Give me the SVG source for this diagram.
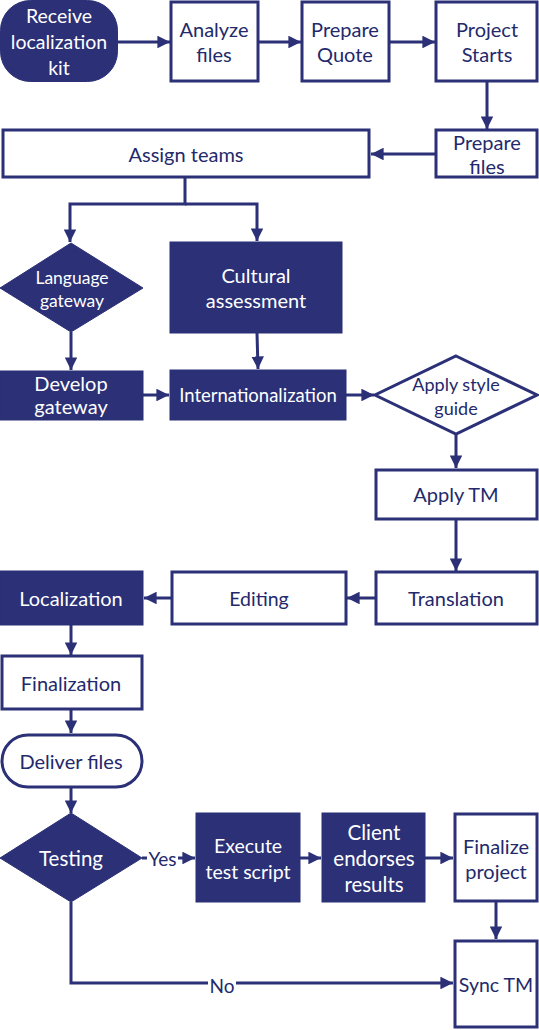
<svg xmlns="http://www.w3.org/2000/svg" width="539" height="1030" viewBox="0 0 539 1030">
<style>
.w{fill:#fff;stroke:#2B3077;stroke-width:3}
.d{fill:#2B3077;stroke:#2B3077;stroke-width:1}
.c{fill:none;stroke:#2B3077;stroke-width:3}
text{font-family:Lato,"Open Sans",sans-serif;text-anchor:middle;dominant-baseline:central}
.tw{fill:#fff}
.tb{fill:#23296B}
.lb{fill:#23296B;font-size:19px}
</style>
<defs>
<marker id="a" viewBox="0 0 10 10" refX="10" refY="5" markerWidth="4.2" markerHeight="4.2" orient="auto" markerUnits="strokeWidth"><path d="M0,0L10,5L0,10z" fill="#2B3077"/></marker>
</defs>
<rect width="539" height="1030" fill="#fff"/>
<g id="connectors">
<path class="c" d="M118,42H170" marker-end="url(#a)"/>
<path class="c" d="M258,42H301" marker-end="url(#a)"/>
<path class="c" d="M389,42H435" marker-end="url(#a)"/>
<path class="c" d="M487,81V129" marker-end="url(#a)"/>
<path class="c" d="M436,154H371" marker-end="url(#a)"/>
<path class="c" d="M185,177V204H70V242" marker-end="url(#a)"/>
<path class="c" d="M185,204H257V241" marker-end="url(#a)"/>
<path class="c" d="M71,332V370" marker-end="url(#a)"/>
<path class="c" d="M257,333L258,369" marker-end="url(#a)"/>
<path class="c" d="M143,395H169" marker-end="url(#a)"/>
<path class="c" d="M346,395H374" marker-end="url(#a)"/>
<path class="c" d="M456,434V468" marker-end="url(#a)"/>
<path class="c" d="M456,519V571" marker-end="url(#a)"/>
<path class="c" d="M375,598H347" marker-end="url(#a)"/>
<path class="c" d="M171,598H144" marker-end="url(#a)"/>
<path class="c" d="M71,625V655" marker-end="url(#a)"/>
<path class="c" d="M71,709V733" marker-end="url(#a)"/>
<path class="c" d="M71,787V813" marker-end="url(#a)"/>
<path class="c" d="M142,858H147M178,858H195" marker-end="url(#a)"/>
<text class="lb" x="162.5" y="858">Yes</text>
<path class="c" d="M300,858H321" marker-end="url(#a)"/>
<path class="c" d="M425,858H453" marker-end="url(#a)"/>
<path class="c" d="M496,901V939" marker-end="url(#a)"/>
<path class="c" d="M71,902V983H208M236,983H453" marker-end="url(#a)"/>
<text class="lb" x="222" y="985">No</text>
</g>
<g id="receive"><rect class="d" x="0.5" y="0.5" width="117" height="81" rx="30"/><text class="tw" font-size="19.5" x="59" y="15">Receive</text><text class="tw" font-size="19.5" x="59" y="41">localization</text><text class="tw" font-size="19.5" x="59" y="67">kit</text></g>
<g id="analyze"><rect class="w" x="171" y="2" width="87" height="79"/><text class="tb" font-size="20" x="214" y="29">Analyze</text><text class="tb" font-size="20" x="214" y="54">files</text></g>
<g id="quote"><rect class="w" x="302" y="2" width="87" height="79"/><text class="tb" font-size="20" x="345" y="29">Prepare</text><text class="tb" font-size="20" x="345" y="54">Quote</text></g>
<g id="starts"><rect class="w" x="436" y="2" width="101" height="79"/><text class="tb" font-size="20" x="487" y="29">Project</text><text class="tb" font-size="20" x="487" y="54">Starts</text></g>
<g id="preparefiles"><rect class="w" x="436" y="130" width="101" height="47"/><text class="tb" font-size="20" x="487" y="142">Prepare</text><text class="tb" font-size="20" x="487" y="166">files</text></g>
<g id="assign"><rect class="w" x="3" y="130" width="366" height="47"/><text class="tb" font-size="20" x="186" y="154">Assign teams</text></g>
<g id="langgw"><path class="d" d="M71,243L143,288L71,332L0,288z"/><text class="tw" font-size="17.5" x="72" y="277">Language</text><text class="tw" font-size="17.5" x="72" y="300">gateway</text></g>
<g id="cultural"><rect class="d" x="170" y="242" width="172" height="91"/><text class="tw" font-size="20" x="256" y="275">Cultural</text><text class="tw" font-size="20" x="256" y="300">assessment</text></g>
<g id="devgw"><rect class="d" x="0" y="371" width="143" height="49"/><text class="tw" font-size="20" x="71" y="383">Develop</text><text class="tw" font-size="20" x="71" y="406">gateway</text></g>
<g id="intl"><rect class="d" x="170" y="370" width="176" height="50"/><text class="tw" font-size="18.5" x="258" y="395">Internationalization</text></g>
<g id="style"><path class="w" d="M456,356L537,395L456,434L375,395z"/><text class="tb" font-size="18" x="456" y="384">Apply style</text><text class="tb" font-size="18" x="456" y="408">guide</text></g>
<g id="applytm"><rect class="w" x="376" y="470" width="161" height="49"/><text class="tb" font-size="20" x="456" y="494">Apply TM</text></g>
<g id="translation"><rect class="w" x="376" y="572" width="161" height="52"/><text class="tb" font-size="20" x="456" y="598">Translation</text></g>
<g id="editing"><rect class="w" x="172" y="572" width="174" height="52"/><text class="tb" font-size="19.5" x="259" y="598">Editing</text></g>
<g id="localization"><rect class="d" x="0" y="571" width="143" height="54"/><text class="tw" font-size="20" x="71" y="598">Localization</text></g>
<g id="finalization"><rect class="w" x="2" y="656" width="140" height="53"/><text class="tb" font-size="20" x="71" y="683">Finalization</text></g>
<g id="deliver"><rect class="w" x="2" y="735" width="140" height="52" rx="26"/><text class="tb" font-size="20" x="71" y="761">Deliver files</text></g>
<g id="testing"><path class="d" d="M71,813L142,858L71,902L0,858z"/><text class="tw" font-size="20.5" x="71" y="858">Testing</text></g>
<g id="execute"><rect class="d" x="196" y="813" width="104" height="89"/><text class="tw" font-size="19.5" x="248" y="845">Execute</text><text class="tw" font-size="19.5" x="248" y="871">test script</text></g>
<g id="client"><rect class="d" x="322" y="813" width="103" height="89"/><text class="tw" font-size="20.5" x="374" y="832">Client</text><text class="tw" font-size="20.5" x="374" y="858">endorses</text><text class="tw" font-size="20.5" x="374" y="884">results</text></g>
<g id="finalize"><rect class="w" x="455" y="814" width="82" height="87"/><text class="tb" font-size="20" x="496" y="846">Finalize</text><text class="tb" font-size="20" x="496" y="871">project</text></g>
<g id="sync"><rect class="w" x="455" y="941" width="82" height="86"/><text class="tb" font-size="19.5" x="496" y="984">Sync TM</text></g>
</svg>
